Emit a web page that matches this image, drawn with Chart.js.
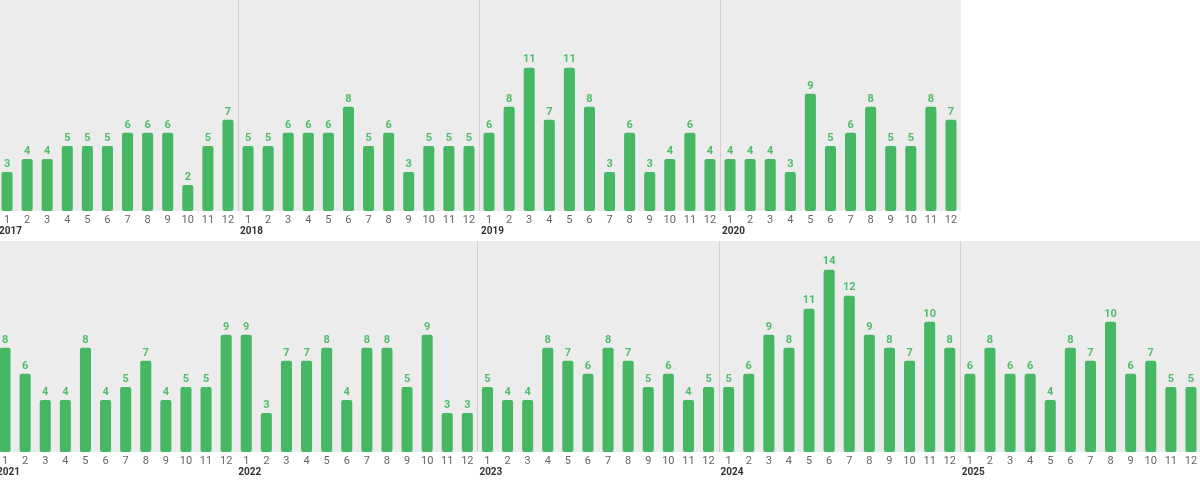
<!DOCTYPE html>
<html>
<head>
<meta charset="utf-8">
<script src="https://cdn.jsdelivr.net/npm/chart.js@4.4.1/dist/chart.umd.min.js"></script>
<style>
  html, body { margin: 0; padding: 0; background: #fff; overflow: hidden; }
  body { width: 1200px; height: 482px; position: relative; font-family: Roboto, sans-serif; }
  .row { position: absolute; }
  #topRow { left: -3px; top: 0; width: 964px; height: 241px; }
  #bottomRow { left: -5px; top: 241px; width: 1206px; height: 241px; }
</style>
</head>
<body>
<div class="row" id="topRow"><canvas id="topChart" width="964" height="241"></canvas></div>
<div class="row" id="bottomRow"><canvas id="bottomChart" width="1206" height="241"></canvas></div>
<script>
// monthly counts, one array per year
const months = ['1', '2', '3', '4', '5', '6', '7', '8', '9', '10', '11', '12'];

const topYears = ['2017', '2018', '2019', '2020'];
const bottomYears = ['2021', '2022', '2023', '2024', '2025'];

const counts2017 = [3, 4, 4, 5, 5, 5, 6, 6, 6, 2, 5, 7];
const counts2018 = [5, 5, 6, 6, 6, 8, 5, 6, 3, 5, 5, 5];
const counts2019 = [6, 8, 11, 7, 11, 8, 3, 6, 3, 4, 6, 4];
const counts2020 = [4, 4, 4, 3, 9, 5, 6, 8, 5, 5, 8, 7];
const counts2021 = [8, 6, 4, 4, 8, 4, 5, 7, 4, 5, 5, 9];
const counts2022 = [9, 3, 7, 7, 8, 4, 8, 8, 5, 9, 3, 3];
const counts2023 = [5, 4, 4, 8, 7, 6, 8, 7, 5, 6, 4, 5];
const counts2024 = [5, 6, 9, 8, 11, 14, 12, 9, 8, 7, 10, 8];
const counts2025 = [6, 8, 6, 6, 4, 8, 7, 10, 6, 7, 5, 5];

const countsByYear = {
  '2017': counts2017, '2018': counts2018, '2019': counts2019, '2020': counts2020,
  '2021': counts2021, '2022': counts2022, '2023': counts2023, '2024': counts2024,
  '2025': counts2025
};

const BAR_COLOR = '#46b864';
const LABEL_COLOR = '#4fbd6b';

// gray plot background, year dividers, value labels and year captions
const decorPlugin = {
  id: 'decor',
  beforeDraw(chart) {
    const { ctx, chartArea } = chart;
    ctx.save();
    ctx.fillStyle = '#ececec';
    ctx.fillRect(chartArea.left, chartArea.top, chartArea.right - chartArea.left, chartArea.bottom - chartArea.top);
    ctx.restore();
  },
  afterDatasetsDraw(chart) {
    const { ctx, chartArea } = chart;
    const xs = chart.scales.x;
    const opts = chart.options.plugins.decor;
    const step = xs.width / chart.data.labels.length;
    ctx.save();
    // dividers between years
    ctx.strokeStyle = '#cfcfcf';
    ctx.lineWidth = 1;
    opts.years.forEach((y, i) => {
      if (!opts.dividers.includes(y)) return;
      const x = Math.round(xs.getPixelForValue(i * 12) - step / 2) + 0.5;
      ctx.beginPath();
      ctx.moveTo(x, chartArea.top);
      ctx.lineTo(x, chartArea.bottom);
      ctx.stroke();
    });
    // value labels
    ctx.fillStyle = LABEL_COLOR;
    ctx.font = 'bold 11px Roboto';
    ctx.textAlign = 'center';
    ctx.textBaseline = 'middle';
    const meta = chart.getDatasetMeta(0);
    meta.data.forEach((bar, i) => {
      ctx.fillText(chart.data.datasets[0].data[i], bar.x, bar.y - 8);
    });
    // year captions under the month ticks
    ctx.fillStyle = '#333';
    ctx.font = 'bold 10px Roboto';
    ctx.textAlign = 'left';
    opts.years.forEach((y, i) => {
      const x = xs.getPixelForValue(i * 12) - step / 2 + 2;
      ctx.fillText(y, x, chartArea.bottom + 20);
    });
    ctx.restore();
  }
};

function buildChart(canvasId, years, dividers) {
  const labels = [];
  const values = [];
  years.forEach(y => {
    months.forEach((m, i) => {
      labels.push(m);
      values.push(countsByYear[y][i]);
    });
  });
  return new Chart(document.getElementById(canvasId), {
    type: 'bar',
    data: {
      labels: labels,
      datasets: [{
        data: values,
        backgroundColor: BAR_COLOR,
        borderRadius: 2,
        borderSkipped: false,
        barPercentage: 0.55,
        categoryPercentage: 1
      }]
    },
    options: {
      responsive: false,
      animation: false,
      layout: { padding: { left: 0, right: 0, top: 0, bottom: 0 } },
      scales: {
        x: {
          grid: { display: false, drawTicks: false },
          border: { display: false },
          ticks: {
            color: '#666',
            font: { family: 'Roboto', size: 11 },
            padding: 3,
            autoSkip: false,
            maxRotation: 0
          },
          afterFit(scale) { scale.height = 30; }
        },
        y: {
          display: false,
          min: 0,
          max: 16.2
        }
      },
      plugins: {
        legend: { display: false },
        tooltip: { enabled: false },
        decor: { years: years, dividers: dividers }
      }
    },
    plugins: [decorPlugin]
  });
}

buildChart('topChart', topYears, ['2018', '2019', '2020']);
buildChart('bottomChart', bottomYears, ['2023', '2024', '2025']);
</script>
</body>
</html>
